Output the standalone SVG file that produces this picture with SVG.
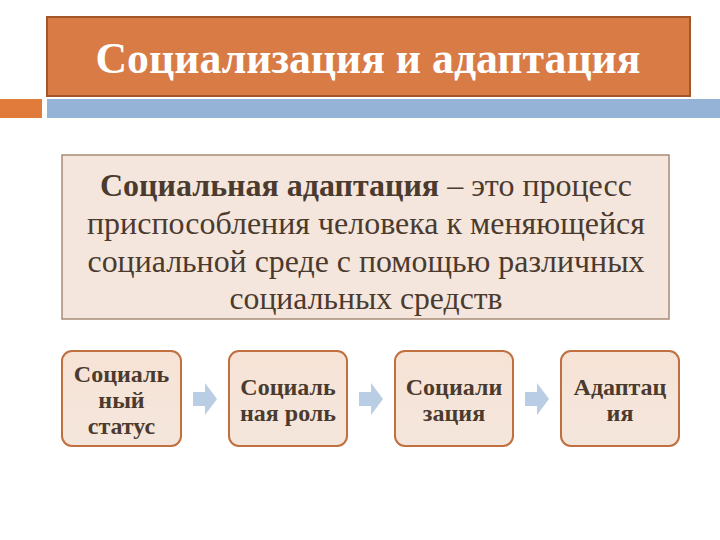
<svg xmlns="http://www.w3.org/2000/svg" width="720" height="540" viewBox="0 0 720 540">
<defs>
<linearGradient id="g" x1="0" y1="0" x2="0" y2="1"><stop offset="0" stop-color="#F7E3D6"/><stop offset="1" stop-color="#F4E6DC"/></linearGradient>
<style>
.node rect.b{fill:url(#g);stroke:#C0703F;stroke-width:2}
.nt{font-family:"Liberation Serif",serif;font-weight:bold;font-size:24px;fill:#4B3A2E;text-anchor:middle}
.dt{font-family:"Liberation Serif",serif;font-size:32px;fill:#4B3A2E;text-anchor:middle}
.arr{fill:#B9CDE5}
</style>
</defs>
<rect width="720" height="540" fill="#fff"/>
<g id="title">
<rect x="47" y="17" width="643" height="79" fill="#D97B45" stroke="#A4562B" stroke-width="2"/>
<text x="368" y="73" font-family="Liberation Serif,serif" font-weight="bold" font-size="44" fill="#fff" text-anchor="middle" textLength="545" lengthAdjust="spacingAndGlyphs">Социализация и адаптация</text>
</g>
<g id="bars">
<rect x="0" y="99" width="42" height="19" fill="#E07B3C"/>
<rect x="47" y="99" width="673" height="19" fill="#95B3D7"/>
</g>
<g id="definition">
<rect x="62" y="155" width="607" height="164" fill="#F4E6DC" stroke="#A88A76" stroke-width="1.5"/>
<text class="dt" x="366" y="196" textLength="532" lengthAdjust="spacingAndGlyphs"><tspan font-weight="bold">Социальная адаптация</tspan> – это процесс</text>
<text class="dt" x="366" y="234" textLength="558" lengthAdjust="spacingAndGlyphs">приспособления человека к меняющейся</text>
<text class="dt" x="366" y="272" textLength="557" lengthAdjust="spacingAndGlyphs">социальной среде с помощью различных</text>
<text class="dt" x="366" y="309" textLength="273" lengthAdjust="spacingAndGlyphs">социальных средств</text>
</g>
<g id="n1" class="node">
<rect class="b" x="62" y="351" width="119" height="95" rx="10"/>
<text class="nt" x="121.5" y="382">Социаль</text>
<text class="nt" x="121.5" y="408">ный</text>
<text class="nt" x="121.5" y="434">статус</text>
</g>
<g id="n2" class="node">
<rect class="b" x="229" y="351" width="118" height="95" rx="10"/>
<text class="nt" x="288" y="395">Социаль</text>
<text class="nt" x="288" y="421">ная роль</text>
</g>
<g id="n3" class="node">
<rect class="b" x="395" y="351" width="118" height="95" rx="10"/>
<text class="nt" x="454" y="395">Социали</text>
<text class="nt" x="454" y="421">зация</text>
</g>
<g id="n4" class="node">
<rect class="b" x="561" y="351" width="118" height="95" rx="10"/>
<text class="nt" x="620" y="395">Адаптац</text>
<text class="nt" x="620" y="421">ия</text>
</g>
<g id="connectors">
<path class="arr" d="M193,392 h12 v-9 l12,16 l-12,16 v-9 h-12 z"/>
<path class="arr" d="M359,392 h12 v-9 l12,16 l-12,16 v-9 h-12 z"/>
<path class="arr" d="M525,392 h12 v-9 l12,16 l-12,16 v-9 h-12 z"/>
</g>
</svg>
